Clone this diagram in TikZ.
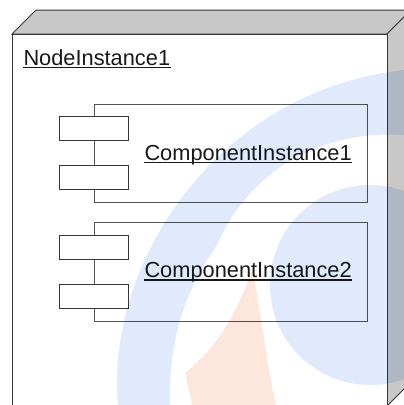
\documentclass[tikz,border=0pt]{standalone}
\usepackage{fontspec}
\setmainfont{Liberation Sans}
\definecolor{facegray}{RGB}{200,200,200}
\definecolor{edgegray}{RGB}{55,55,55}
\definecolor{framegray}{RGB}{85,85,85}
\definecolor{textgray}{RGB}{25,25,25}
\definecolor{wmblue}{RGB}{224,234,252}
\definecolor{wmorange}{RGB}{253,230,220}
\begin{document}
\begin{tikzpicture}[x=1pt,y=-1pt,
  line width=1pt,
  face/.style={fill=facegray, draw=edgegray, line join=miter},
  front/.style={fill=white, draw=edgegray},
  frame/.style={draw=framegray, fill=white, rectangle, inner sep=0pt, minimum width=273pt},
  port/.style={draw=edgegray, fill=white, rectangle, inner sep=0pt, minimum width=69pt, minimum height=24pt},
  lbl/.style={inner sep=0pt, anchor=base west, font=\fontsize{21.8}{24}\selectfont, text=textgray},
  uline/.style={draw=textgray, line width=1.1pt}
]
\useasboundingbox (0,0) rectangle (404,405);
\clip (0,0) rectangle (404,405);
% 3D node box
\draw[face] (12,34) -- (36,10) -- (411,10) -- (387,34) -- cycle;
\draw[face] (387,34) -- (411,10) -- (411,382) -- (387,406) -- cycle;
\draw[front] (12,34) rectangle (387,406);
% component 1
\node[frame, minimum height=98pt] (c1) at (230.5,153) {};
\node[port] (p1a) at (93.5,128) {};
\node[port] (p1b) at (93.5,177.5) {};
% component 2
\node[frame, minimum height=99pt] (c2) at (230.5,271.5) {};
\node[port] (p2a) at (93.5,247) {};
\node[port] (p2b) at (93.5,296) {};
% labels
\node[lbl] (n1) at (23,65) {NodeInstance1};
\node[lbl] (t1) at (144,160) {ComponentInstance1};
\node[lbl] (t2) at (144,277.5) {ComponentInstance2};
\draw[uline] ([yshift=-2.5pt]n1.base west) -- ([yshift=-2.5pt]n1.base east);
\draw[uline] ([yshift=-2.5pt]t1.base west) -- ([yshift=-2.5pt]t1.base east);
\draw[uline] ([yshift=-2.5pt]t2.base west) -- ([yshift=-2.5pt]t2.base east);
% watermark
\begin{scope}[blend mode=multiply]
\fill[wmblue] (118,406) .. controls (105,260) and (220,90) .. (404,70) -- (404,135)
  .. controls (320,130) and (250,170) .. (217,245)
  .. controls (185,290) and (168,340) .. (170,406) -- cycle;
\fill[wmblue] (370,285) circle[radius=100];
\fill[wmorange] (252,268) .. controls (262,320) and (268,370) .. (276,406) -- (192,406)
  .. controls (190,390) and (185,378) .. (186,372)
  .. controls (215,350) and (240,310) .. (252,268) -- cycle;
\end{scope}
\end{tikzpicture}
\end{document}
